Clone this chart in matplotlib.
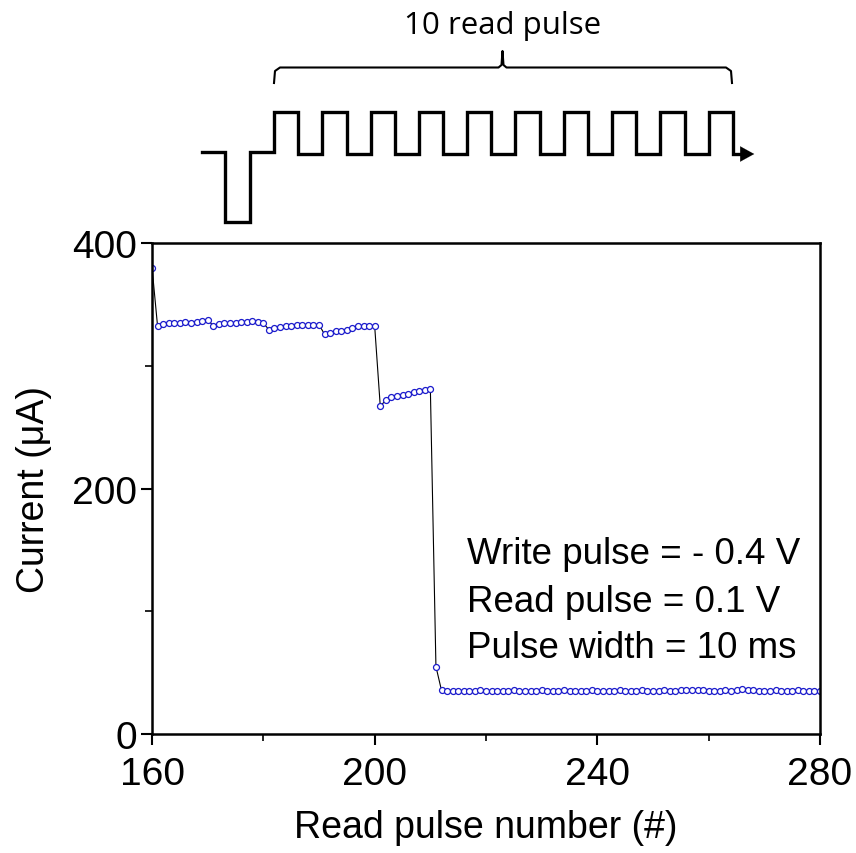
import numpy as np
import matplotlib
matplotlib.use("Agg")
from matplotlib import pyplot as plt

plt.rcParams['font.family'] = ['Liberation Sans', 'DejaVu Sans']

# read pulse number and measured current (uA)
pulse_num = np.arange(160, 281)
current = ([380]
           + [332, 334, 334.5, 334.5, 335, 335.5, 335, 336, 336.5, 337.5]
           + [332.5, 334, 334.5, 334.5, 335, 335.5, 336, 336.5, 335.5, 334.5]
           + [329.5, 330.5, 331.5, 332, 332.5, 333, 333, 333, 333.5, 333.5]
           + [325.5, 326.5, 328, 328.5, 329.5, 331, 332, 332, 332, 332]
           + [267, 272, 274.5, 275.5, 276.5, 277, 278.5, 279.5, 280, 281]
           + [55]
           + [35.5, 35.3, 35.3, 35.2, 35.3, 35.4, 35.2, 35.5, 35.3, 35.4,
              35.3, 35.4, 35.3, 35.5, 35.4, 35.3, 35.4, 35.3, 35.5, 35.4,
              35.3, 35.4, 35.5, 35.3, 35.4, 35.3, 35.4, 35.5, 35.4, 35.3,
              35.4, 35.3, 35.5, 35.4, 35.3, 35.4, 35.5, 35.4, 35.3, 35.4,
              35.5, 35.3, 35.4, 35.5, 36.2, 35.8, 35.6, 36.2, 35.4, 35.3,
              35.4, 35.5, 35.3, 35.6, 36.3, 35.8, 35.5, 35.4, 35.3, 35.4,
              35.5, 35.4, 35.3, 35.4, 35.5, 35.4, 35.3, 35.4, 35.2])

x_ticks = [160, 200, 240, 280]
y_ticks = [0, 200, 400]
notes = ["Write pulse = - 0.4 V", "Read pulse = 0.1 V", "Pulse width = 10 ms"]
n_read = 10

fig = plt.figure(figsize=(8.56, 8.54), dpi=100)
ax = fig.add_axes([0.1776, 0.1393, 0.7804, 0.575])

ax.plot(pulse_num, current, color='black', lw=0.8, zorder=1)
ax.plot(pulse_num, current, ls='none', marker='o', ms=4.3, mfc='white',
        mec='#1a1acc', mew=0.9, zorder=2)

ax.set_xlim(160, 280)
ax.set_ylim(0, 400)
ax.set_xticks(x_ticks)
ax.set_yticks(y_ticks)
ax.set_xticks([180, 220, 260], minor=True)
ax.set_yticks([100, 300], minor=True)
ax.tick_params(which='major', direction='out', length=8, width=1.5, labelsize=28, pad=3)
ax.tick_params(axis='x', which='major', pad=8)
ax.tick_params(which='minor', direction='out', length=5, width=1.2)
for s in ax.spines.values():
    s.set_linewidth(1.8)

ax.set_xlabel("Read pulse number (#)", fontsize=27, labelpad=12)
ax.set_ylabel("Current (μA)", fontsize=27, labelpad=14)

note_y = [0.367, 0.269, 0.177]
for t, yy in zip(notes, note_y):
    ax.text(0.472, yy, t, transform=ax.transAxes, fontsize=26.5,
            va='center', ha='left')

# schematic of the pulse train above the plot (pixel coordinates)
sk = fig.add_axes([0, 0, 1, 1])
sk.set_xlim(0, 856)
sk.set_ylim(854, 0)
sk.axis('off')
base, low, high = 152.5, 222.5, 112.5
wx = [202, 225.5, 225.5, 250, 250, 274]
wy = [base, base, low, low, base, base]
x0, period, width = 274, 48.3, 24.3
for k in range(n_read):
    xs = x0 + k * period
    wx += [xs, xs, xs + width, xs + width, xs + period]
    wy += [base, high, high, base + 2.5, base + 2.5]
wx[-1] = 743
sk.plot(wx, wy, color='black', lw=2.4, solid_joinstyle='miter')
sk.annotate('', xy=(757, base + 2.5), xytext=(738, base + 2.5),
            arrowprops=dict(arrowstyle='-|>,head_length=1.0,head_width=0.55',
                            color='black', lw=0.1))
# brace
bl, br, bm, by = 274, 732, 502.5, 68.5
sk.plot([bl, bl + 1, bl + 6, bm - 4, bm - 1, bm, bm + 1, bm + 4, br - 6, br - 1, br],
        [84, 72, by, by, 66, 52, 66, by, by, 72, 84], color='black', lw=1.5)
sk.text(bm, 26, "10 read pulse", fontsize=22.5, ha='center', va='center',
        family=['Open Sans', 'DejaVu Sans'])

fig.savefig('out.png', dpi=100)
